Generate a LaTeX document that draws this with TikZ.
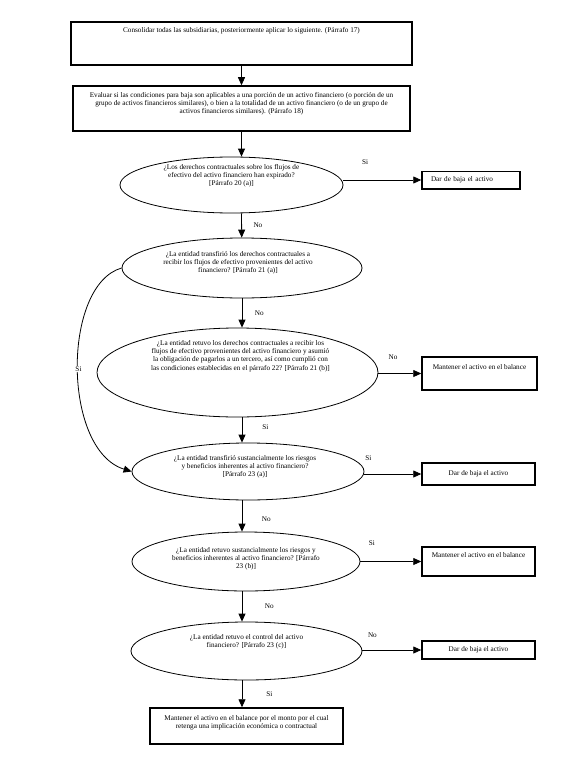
\documentclass[tikz,border=0pt]{standalone}
\usepackage{fontspec}
\setmainfont{Liberation Serif}
\usetikzlibrary{shapes.geometric,arrows.meta,positioning}

\begin{document}
\begin{tikzpicture}[x=1pt,y=-1pt,->,>={Triangle[length=8pt,width=7pt]},line width=0.8pt,
    font=\fontsize{7.2}{8.2}\selectfont,
    box node/.style={draw,rectangle,line width=1.5pt,inner sep=0pt},
    question node/.style={draw,ellipse,inner sep=0pt},
    inner text/.style={align=center,inner sep=0pt},
    answer/.style={inner sep=1pt}]

  \useasboundingbox (0,0) rectangle (566,765);

  % pasos iniciales
  \node[box node, minimum width=341pt, minimum height=43pt,
        label={[inner text,yshift=12.5pt]center:{Consolidar todas las subsidiarias, posteriormente aplicar lo siguiente. (Párrafo 17)}}] (b1) at (241.5,43.5) {};
  \node[box node, minimum width=337pt, minimum height=45pt,
        label={[inner text,yshift=4.5pt]center:{Evaluar si las condiciones para baja son aplicables a una porción de un activo financiero (o porción de un\\
        grupo de activos financieros similares), o bien a la totalidad de un activo financiero (o de un grupo de\\
        activos financieros similares). (Párrafo 18)}}] (b2) at (241.5,108.5) {};

  % preguntas
  \node[question node, minimum width=223pt, minimum height=56pt,
        label={[inner text,yshift=9.5pt]center:{¿Los derechos contractuales sobre los flujos de\\
        efectivo del activo financiero han expirado?\\ {[}Párrafo 20 (a)]}}] (q1) at (231.5,185) {};
  \node[question node, minimum width=240pt, minimum height=60pt,
        label={[inner text,yshift=5.5pt,xshift=-4pt]center:{¿La entidad transfirió los derechos contractuales a\\
        recibir los flujos de efectivo provenientes del activo\\ financiero? [Párrafo 21 (a)]}}] (q2) at (242,268) {};
  \node[question node, minimum width=281pt, minimum height=89pt,
        label={[inner text,yshift=16.5pt,xshift=3pt]center:{¿La entidad retuvo los derechos contractuales a recibir los\\
        flujos de efectivo provenientes del activo financiero y asumió\\
        la obligación de pagarlos a un tercero, así como cumplió con\\
        las condiciones establecidas en el párrafo 22? [Párrafo 21 (b)]}}] (q3) at (237.5,372.5) {};
  \node[question node, minimum width=232pt, minimum height=57pt,
        label={[inner text,yshift=4.5pt,xshift=-3pt]center:{¿La entidad transfirió sustancialmente los riesgos\\
        y beneficios inherentes al activo financiero?\\ {[}Párrafo 23 (a)]}}] (q4) at (248,471.5) {};
  \node[question node, minimum width=228pt, minimum height=59pt,
        label={[inner text,yshift=3pt]center:{¿La entidad retuvo sustancialmente los riesgos y\\
        beneficios inherentes al activo financiero? [Párrafo\\ 23 (b)]}}] (q5) at (246,561.5) {};
  \node[question node, minimum width=231pt, minimum height=58pt,
        label={[inner text,yshift=9.5pt]center:{¿La entidad retuvo el control del activo\\
        financiero? [Párrafo 23 (c)]}}] (q6) at (246.5,651) {};

  % resultados
  \node[box node, text width=80pt, inner xsep=9pt, minimum height=17.5pt, align=left] (r1) at (471,180) {Dar de baja el activo};
  \node[box node, minimum width=115pt, minimum height=33pt,
        label={[inner text,yshift=6.5pt]center:Mantener el activo en el balance}] (r2) at (479.5,373.5) {};
  \node[box node, minimum width=113pt, minimum height=22pt] (r3) at (478.5,474) {Dar de baja el activo};
  \node[box node, minimum width=113pt, minimum height=29pt,
        label={[inner text,yshift=6.5pt]center:Mantener el activo en el balance}] (r4) at (478.5,561.5) {};
  \node[box node, minimum width=113pt, minimum height=18pt] (r5) at (478.5,650) {Dar de baja el activo};
  \node[box node, minimum width=193pt, minimum height=36pt,
        label={[inner text,yshift=3.5pt]center:{Mantener el activo en el balance por el monto por el cual\\
        retenga una implicación económica o contractual}}] (f) at (246.5,726) {};

  % flechas
  \path (b1) edge (b2)
        (b2) edge (q1.north -| b2)
        (q1.south -| b2) edge node[answer, right=10.5pt] {No} (q2)
        (q2) edge node[answer, right=11.5pt] {No} (q3.north -| q2)
        (q3.south -| q2) edge node[answer, pos=0.38, right=19pt] {Si} (q4.north -| q2)
        (q4.south -| q2) edge node[answer, pos=0.6, right=18.5pt] {No} (q5.north -| q2)
        (q5.south -| q2) edge node[answer, right=21.5pt] {No} (q6.north -| q2)
        (q6.south -| q2) edge node[answer, right=23pt] {Si} (f.north -| q2);

  \path (q1.east |- r1) edge node[answer, pos=0.28, above=14pt] {Si} (r1)
        (q3.east |- r2) edge node[answer, pos=0.34, above=12.5pt] {No} (r2)
        (q4.east |- r3) edge node[answer, pos=0.07, above=12.5pt] {Si} (r3)
        (q5.east |- r4) edge node[answer, pos=0.19, above=14.5pt] {Si} (r4)
        (q6.east |- r5) edge node[answer, pos=0.17, above=11.5pt] {No} (r5);

  \draw (q2.west) .. controls (62,285) and (62,450) .. (q4.west);
  \node[answer, fill=white] (si) at (78.5,369) {Si};

\end{tikzpicture}
\end{document}
